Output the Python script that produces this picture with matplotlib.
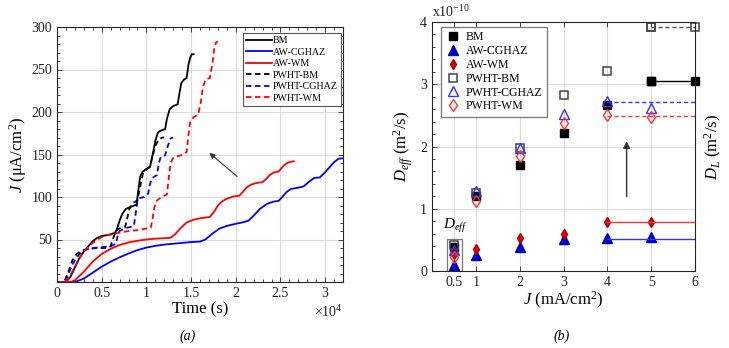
import matplotlib
matplotlib.use("Agg")
import matplotlib.pyplot as plt
from matplotlib.ticker import MultipleLocator, FixedLocator

# ---------------- data: panel (a) ----------------  (time in units of 1e4 s)
BM_t = [0, 0.10, 0.15, 0.20, 0.25, 0.30, 0.35, 0.40, 0.45, 0.50, 0.55, 0.60, 0.65, 0.67, 0.70, 0.73,
        0.77, 0.84, 0.89, 0.91, 0.93, 0.96, 1.00, 1.04, 1.07, 1.10, 1.13, 1.16, 1.21, 1.23, 1.26, 1.30,
        1.35, 1.37, 1.39, 1.42, 1.45, 1.47, 1.49, 1.51, 1.53]
BM_J = [0, 0, 6, 17, 28, 36, 42, 48, 52, 54, 55, 56, 58, 62, 72, 80,
        86, 89, 91, 108, 124, 130, 133, 135, 150, 166, 176, 178, 180, 192, 203, 207,
        209, 222, 234, 238, 240, 255, 264, 268, 268]

AW_CGHAZ_t = [0, 0.20, 0.30, 0.40, 0.50, 0.60, 0.70, 0.80, 0.90, 1.00, 1.10, 1.20, 1.30, 1.40, 1.50,
              1.60, 1.66, 1.74, 1.82, 1.90, 2.00, 2.07, 2.14, 2.20, 2.27, 2.35, 2.42, 2.48, 2.52,
              2.57, 2.62, 2.70, 2.76, 2.82, 2.88, 2.94, 2.99, 3.05, 3.10, 3.15, 3.20]
AW_CGHAZ_J = [0, 0, 4, 11, 18, 24, 29, 33.5, 37.5, 40.5, 42.5, 44, 45, 46, 47,
              47.5, 50, 57, 63, 66, 68.5, 70, 72, 78, 86, 92, 94.5, 95.5, 100,
              106, 109.5, 111, 112.5, 118, 122.5, 123, 128, 135, 141, 145, 145.5]

AW_WM_t = [0, 0.15, 0.20, 0.30, 0.40, 0.50, 0.60, 0.70, 0.80, 0.90, 1.00, 1.10, 1.20, 1.27, 1.32,
           1.38, 1.45, 1.52, 1.60, 1.71, 1.76, 1.80, 1.85, 1.90, 1.97, 2.04, 2.08, 2.12, 2.17,
           2.23, 2.30, 2.34, 2.38, 2.43, 2.48, 2.52, 2.56, 2.60, 2.65]
AW_WM_J = [0, 0, 2, 12, 24, 33, 39, 43.5, 46.5, 48.5, 50, 51, 51.5, 52, 56,
           63, 70, 73, 75, 76.5, 83, 90, 95, 98, 100.5, 101.5, 106, 111, 114.5,
           116.5, 117.5, 121, 126, 129, 130, 135, 139, 141, 142]

PWHT_BM_t = [0, 0.08, 0.12, 0.17, 0.22, 0.28, 0.35, 0.45, 0.55, 0.60, 0.63, 0.66, 0.70, 0.76, 0.78,
             0.81, 0.85, 0.90, 0.93, 0.96, 1.00, 1.04, 1.07, 1.10, 1.14, 1.18, 1.20]
PWHT_BM_J = [0, 0, 10, 25, 33, 37, 39, 40, 40, 42, 52, 60, 63, 64, 72,
             86, 93, 96, 112, 127, 132, 136, 148, 160, 168, 170, 170]

PWHT_CGHAZ_t = [0, 0.09, 0.13, 0.17, 0.22, 0.27, 0.32, 0.40, 0.50, 0.60, 0.66, 0.68, 0.70, 0.76, 0.86,
                0.88, 0.90, 0.93, 0.98, 1.02, 1.04, 1.06, 1.12, 1.14, 1.16, 1.21, 1.24, 1.27, 1.30]
PWHT_CGHAZ_J = [0, 0, 10, 20, 29, 35, 38, 40, 41, 42, 45, 55, 60, 63, 66,
                80, 95, 99, 100, 104, 115, 122, 126, 140, 147, 149, 160, 169, 170]

PWHT_WM_t = [0, 0.10, 0.15, 0.20, 0.25, 0.30, 0.40, 0.50, 0.60, 0.70, 0.80, 0.90, 1.00, 1.05, 1.07,
             1.09, 1.12, 1.17, 1.23, 1.25, 1.27, 1.30, 1.35, 1.42, 1.45, 1.47, 1.49, 1.53, 1.58,
             1.61, 1.63, 1.66, 1.71, 1.74, 1.76, 1.78, 1.80]
PWHT_WM_J = [0, 0, 8, 18, 28, 36, 46, 53, 56, 58, 60, 61, 63, 64, 75,
             88, 96, 100, 103, 122, 140, 146, 148, 150, 153, 172, 188, 194, 197,
             212, 228, 238, 240, 258, 275, 282, 283]

# ---------------- data: panel (b) ----------------  (D in units of 1e-10 m^2/s)
J_pts = [0.5, 1, 2, 3, 4, 5]
D_BM = [0.38, 1.21, 1.70, 2.21, 2.67, 3.05]
D_AW_CGHAZ = [0.10, 0.26, 0.38, 0.52, 0.53, 0.54]
D_AW_WM = [0.27, 0.35, 0.53, 0.60, 0.78, 0.79]
D_PWHT_BM = [0.42, 1.25, 1.98, 2.83, 3.21, 3.92]
D_PWHT_CGHAZ = [0.34, 1.29, 1.97, 2.53, 2.73, 2.62]
D_PWHT_WM = [0.22, 1.13, 1.85, 2.37, 2.51, 2.47]

DL_BM = 3.05
DL_PWHT_BM = 3.92
DL_PWHT_CGHAZ = 2.71
DL_PWHT_WM = 2.49
DL_AW_WM = 0.78
DL_AW_CGHAZ = 0.52

x_ticks_b = [0.5, 1, 2, 3, 4, 5, 6]

# ---------------- style ----------------
plt.rcParams['font.family'] = ['Liberation Serif', 'DejaVu Serif']
plt.rcParams['mathtext.fontset'] = 'custom'
plt.rcParams['mathtext.rm'] = 'Liberation Serif'
plt.rcParams['mathtext.it'] = 'Liberation Serif:italic'
plt.rcParams['mathtext.bf'] = 'Liberation Serif:bold'
AX_COL = '#262626'
GRID_COL = '#dcdcdc'

fig = plt.figure(figsize=(7.29, 3.48), dpi=100)

W, H = 729.0, 348.0
axA = fig.add_axes([57 / W, (H - 282) / H, 286 / W, 255 / H])
axB = fig.add_axes([432 / W, (H - 271) / H, 263 / W, 249 / H])

def style_axes(ax):
    for s in ax.spines.values():
        s.set_color(AX_COL)
        s.set_linewidth(0.8)
    ax.tick_params(which='both', direction='in', top=True, right=True, colors=AX_COL,
                   labelcolor='#222222', labelsize=10, width=0.6)
    ax.tick_params(which='major', length=3.5)
    ax.tick_params(which='minor', length=2)
    ax.grid(True, which='major', color=GRID_COL, linewidth=0.8)
    ax.set_axisbelow(True)

# ---------------- panel (a) ----------------
lw = 1.3
axA.plot(BM_t, BM_J, color='black', lw=lw, label='BM')
axA.plot(AW_CGHAZ_t, AW_CGHAZ_J, color='#0000ff', lw=lw, label='AW-CGHAZ')
axA.plot(AW_WM_t, AW_WM_J, color='#ff0000', lw=lw, label='AW-WM')
axA.plot(PWHT_BM_t, PWHT_BM_J, color='black', lw=lw, ls=(0, (3, 2)), label='PWHT-BM')
axA.plot(PWHT_CGHAZ_t, PWHT_CGHAZ_J, color='#0000ff', lw=lw, ls=(0, (3, 2)), label='PWHT-CGHAZ')
axA.plot(PWHT_WM_t, PWHT_WM_J, color='#ff0000', lw=lw, ls=(0, (3, 2)), label='PWHT-WM')

axA.set_xlim(0, 3.2)
axA.set_ylim(0, 300)
axA.set_xticks([0, 0.5, 1, 1.5, 2, 2.5, 3])
axA.set_xticklabels(['0', '0.5', '1', '1.5', '2', '2.5', '3'])
axA.set_yticks([50, 100, 150, 200, 250, 300])
axA.xaxis.set_minor_locator(MultipleLocator(0.1))
axA.yaxis.set_minor_locator(MultipleLocator(10))
style_axes(axA)
axA.set_xlabel('Time (s)', fontsize=12, labelpad=1)
axA.set_ylabel(r'$J$ ($\mathrm{\mu}$A/cm$^2$)', fontsize=12, labelpad=2)
axA.text(1.0, -0.085, r'$\times10^4$', transform=axA.transAxes, ha='right', va='top',
         fontsize=10, color='#222222')
axA.annotate('', xy=(1.68, 154), xytext=(2.04, 122),
             arrowprops=dict(arrowstyle='-|>', color='#333333', lw=0.8,
                             mutation_scale=8))
legA = axA.legend(loc='upper right', bbox_to_anchor=(1 - 2 / 286, 1 - 6 / 255),
                  borderaxespad=0, fontsize=7.2, handlelength=2.6, handletextpad=0.1,
                  labelspacing=0.25, fancybox=False, framealpha=1, edgecolor='#555555',
                  borderpad=0.3)
legA.get_frame().set_linewidth(0.8)
fig.text(188 / W, 1 - 336 / H, '(a)', style='italic', fontsize=10, ha='center', va='center')

# ---------------- panel (b) ----------------
ms = 5.5
axB.plot(J_pts, D_BM, ls='none', marker='s', ms=ms, mfc='black', mec='black', label='BM')
axB.plot(J_pts, D_AW_CGHAZ, ls='none', marker='^', ms=ms + 1, mfc='#0000dd', mec='#0000aa',
         label='AW-CGHAZ')
axB.plot(J_pts, D_AW_WM, ls='none', marker='d', ms=ms, mfc='#ee0000', mec='#aa0000',
         label='AW-WM')
axB.plot(J_pts, D_PWHT_BM, ls='none', marker='s', ms=ms, mfc='none', mec='#444444', mew=1.1,
         label='PWHT-BM')
axB.plot(J_pts, D_PWHT_CGHAZ, ls='none', marker='^', ms=ms + 1.5, mfc='none', mec='#3333ff',
         mew=1.0, label='PWHT-CGHAZ')
axB.plot(J_pts, D_PWHT_WM, ls='none', marker='d', ms=ms + 0.5, mfc='none', mec='#ff3333',
         mew=1.0, label='PWHT-WM')

# D_L lines
axB.plot([5, 6], [DL_PWHT_BM, DL_PWHT_BM], color='#555555', lw=1, ls=(0, (3, 2)),
         marker='s', ms=ms, mfc='none', mec='#444444', mew=1.1, clip_on=False)
axB.plot([5, 6], [DL_BM, DL_BM], color='black', lw=1, marker='s', ms=ms, mfc='black',
         mec='black', clip_on=False)
axB.plot([4, 6], [DL_PWHT_CGHAZ, DL_PWHT_CGHAZ], color='#3333ff', lw=1, ls=(0, (3, 2)))
axB.plot([4, 6], [DL_PWHT_WM, DL_PWHT_WM], color='#ff3333', lw=1, ls=(0, (3, 2)))
axB.plot([4, 6], [DL_AW_WM, DL_AW_WM], color='#ff3333', lw=1)
axB.plot([4, 6], [DL_AW_CGHAZ, DL_AW_CGHAZ], color='#3333ff', lw=1)

axB.set_xlim(0, 6)
axB.set_ylim(0, 4)
axB.xaxis.set_major_locator(FixedLocator(x_ticks_b))
axB.set_xticklabels(['0.5', '1', '2', '3', '4', '5', '6'])
axB.set_yticks([0, 1, 2, 3, 4])
axB.yaxis.set_minor_locator(MultipleLocator(0.2))
style_axes(axB)
axB.tick_params(which='both', right=False)
axB.set_xlabel(r'$J$ (mA/cm$^2$)', fontsize=12, labelpad=1)
axB.set_ylabel(r'$D_{eff}$ (m$^2$/s)', fontsize=12, labelpad=4)
axB.text(1.03, 0.5, r'$D_L$ (m$^2$/s)', transform=axB.transAxes, rotation=90,
         ha='left', va='center', fontsize=12)
axB.text(0.0, 1.01, r'x10$^{-10}$', transform=axB.transAxes, ha='left', va='bottom',
         fontsize=10, color='#222222')

# box and label around J = 0.5 points
axB.add_patch(plt.Rectangle((0.35, 0.0), 0.33, 0.52, fill=False, edgecolor='#777777', lw=0.9))
axB.text(0.53, 0.73, r'$D_{eff}$', fontsize=11, ha='center', va='center')
axB.annotate('', xy=(4.44, 2.13), xytext=(4.44, 1.15),
             arrowprops=dict(arrowstyle='-|>', color='#333333', lw=1.0, mutation_scale=10))

legB = axB.legend(loc='upper left', bbox_to_anchor=(8.7 / 263, 1 - 4.7 / 249),
                  borderaxespad=0, fontsize=8.5, handlelength=1.2, handletextpad=0.5,
                  labelspacing=0.15, fancybox=False, framealpha=1, edgecolor='#777777',
                  borderpad=0.4)
legB.get_frame().set_linewidth(0.9)
fig.text(562 / W, 1 - 336 / H, '(b)', style='italic', fontsize=10, ha='center', va='center')

fig.savefig('out.png', dpi=100)
